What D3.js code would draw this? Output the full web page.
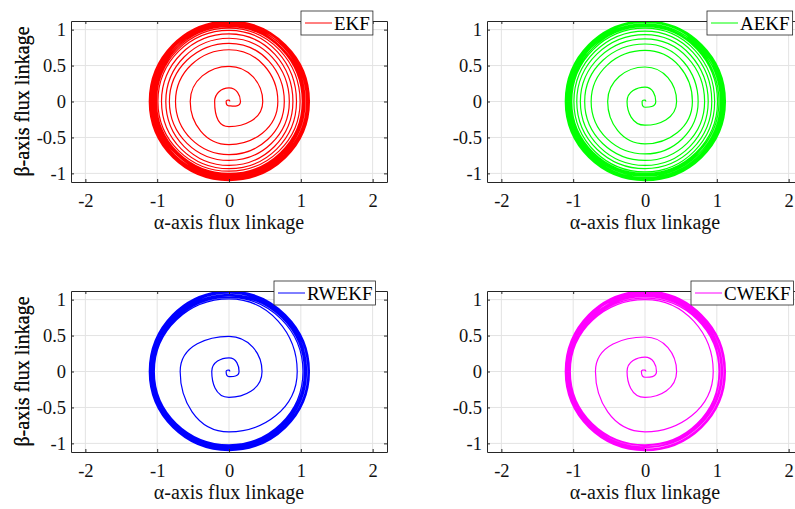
<!DOCTYPE html>
<html>
<head>
<meta charset="utf-8">
<script src="https://cdn.jsdelivr.net/npm/d3@7"></script>
<style>
    body { margin: 0; background: #fff; }
    svg { display: block; font-family: "Liberation Serif", "Times New Roman", serif; }
</style>
</head>
<body>
<div class="chart"></div>
<script>
// flux trace: radius where the trace crosses each half axis,
// in the order +alpha, +beta, -alpha, -beta (one turn every 4 values)
var ekfRadius = [0.01, 0.02, 0.04, 0.06,
    0.16, 0.19, 0.20, 0.35,
    0.47, 0.49, 0.54, 0.60,
    0.68, 0.72, 0.745, 0.74,
    0.77, 0.81, 0.83, 0.82,
    0.84, 0.88, 0.88, 0.89,
    0.89, 0.94, 0.94, 0.935,
    0.94, 0.99, 0.99, 0.97,
    0.99, 1.02, 1.01, 1.00,
    1.02, 1.04, 1.03, 1.02,
    1.04, 1.06, 1.05, 1.03,
    1.06, 1.08, 1.07, 1.05,
    1.08, 1.10, 1.09, 1.07,
    1.10, 1.12, 1.11, 1.09,
    1.12, 1.11, 1.10, 1.10,
    1.11, 1.12, 1.09, 1.08,
    1.10, 1.09, 1.06, 1.06,
    1.08, 1.07, 1.04, 1.03,
    1.05, 1.05, 1.02, 1.01,
    1.03, 1.04, 1.03, 1.04,
    1.06, 1.08, 1.08, 1.07,
    1.09, 1.11, 1.10, 1.09,
    1.11, 1.12, 1.11, 1.10,
    1.12, 1.10, 1.08, 1.06];

var aekfRadius = [0.01, 0.02, 0.04, 0.08,
    0.15, 0.20, 0.25, 0.33,
    0.44, 0.48, 0.52, 0.59,
    0.66, 0.71, 0.75, 0.73,
    0.74, 0.80, 0.84, 0.82,
    0.83, 0.87, 0.90, 0.89,
    0.88, 0.93, 0.95, 0.935,
    0.93, 0.98, 0.99, 0.98,
    0.97, 1.02, 1.02, 1.00,
    1.01, 1.04, 1.04, 1.02,
    1.03, 1.06, 1.06, 1.04,
    1.05, 1.08, 1.08, 1.06,
    1.07, 1.10, 1.09, 1.08,
    1.09, 1.12, 1.11, 1.09,
    1.11, 1.11, 1.10, 1.10,
    1.12, 1.12, 1.09, 1.08,
    1.10, 1.10, 1.07, 1.06,
    1.08, 1.07, 1.05, 1.03,
    1.06, 1.05, 1.03, 1.01,
    1.03, 1.04, 1.04, 1.04,
    1.05, 1.08, 1.07, 1.07,
    1.08, 1.11, 1.10, 1.09,
    1.11, 1.12, 1.11, 1.10,
    1.12, 1.10, 1.08, 1.06];

var rwekfRadius = [0.01, 0.02, 0.04, 0.07,
    0.14, 0.19, 0.24, 0.36,
    0.46, 0.49, 0.68, 0.84,
    0.95, 1.01, 1.04, 1.02,
    1.03, 1.03, 1.05, 1.03,
    1.05, 1.05, 1.07, 1.04,
    1.06, 1.07, 1.08, 1.06,
    1.08, 1.09, 1.10, 1.07,
    1.10, 1.11, 1.11, 1.09,
    1.11, 1.12, 1.10, 1.10,
    1.12, 1.11, 1.09, 1.08,
    1.10, 1.09, 1.07, 1.06,
    1.08, 1.07, 1.05, 1.04,
    1.06, 1.05, 1.04, 1.02,
    1.05, 1.06, 1.06, 1.05,
    1.07, 1.09, 1.09, 1.08,
    1.10, 1.12, 1.11, 1.10,
    1.12, 1.10, 1.08, 1.07];

var cwekfRadius = [0.01, 0.02, 0.05, 0.08,
    0.16, 0.20, 0.25, 0.36,
    0.44, 0.48, 0.69, 0.84,
    0.95, 1.00, 1.04, 1.02,
    1.03, 1.02, 1.05, 1.03,
    1.04, 1.04, 1.07, 1.05,
    1.06, 1.06, 1.08, 1.06,
    1.08, 1.08, 1.10, 1.08,
    1.10, 1.10, 1.11, 1.09,
    1.11, 1.12, 1.10, 1.10,
    1.12, 1.11, 1.09, 1.08,
    1.10, 1.09, 1.07, 1.06,
    1.08, 1.07, 1.05, 1.03,
    1.06, 1.04, 1.04, 1.02,
    1.04, 1.05, 1.06, 1.05,
    1.07, 1.09, 1.09, 1.08,
    1.10, 1.12, 1.11, 1.10,
    1.12, 1.10, 1.08, 1.07];

// unit direction of each crossing: +alpha, +beta, -alpha, -beta
var crossDirs = [[1, 0], [0, 1], [-1, 0], [0, -1]];

var xTicks = [-2, -1, 0, 1, 2];
var yTicks = [-1, -0.5, 0, 0.5, 1];
var names = ["EKF", "AEKF", "RWEKF", "CWEKF"];
var colors = ["#ff0000", "#00ff00", "#0000ff", "#ff00ff"];
var series = [ekfRadius, aekfRadius, rwekfRadius, cwekfRadius];

var xLabel = "\u03b1-axis flux linkage";
var yLabel = "\u03b2-axis flux linkage";

// panel placement (pixels)
var panels = [
    { left: 71, top: 21, legendX: 301 },
    { left: 487, top: 21, legendX: 707 },
    { left: 71, top: 291, legendX: 274 },
    { left: 487, top: 291, legendX: 691 }
];
var plotW = 316, plotH = 161;
var axisColor = "#262626";
var textColor = "#111";
var serif = "'Liberation Serif', 'Times New Roman', serif";

// quarter-turn arcs between successive axis crossings (counter-clockwise)
function tracePath(radii, x, y) {
    var p = d3.path();
    var k = 0.5523;
    radii.forEach(function (r, i) {
        var d = crossDirs[i % 4];
        if (i === 0) {
            p.moveTo(x(r * d[0]), y(r * d[1]));
            return;
        }
        var r0 = radii[i - 1], d0 = crossDirs[(i - 1) % 4];
        var c1 = [r0 * d0[0] - k * r0 * d0[1], r0 * d0[1] + k * r0 * d0[0]];
        var c2 = [r * d[0] + k * r * d[1], r * d[1] - k * r * d[0]];
        p.bezierCurveTo(x(c1[0]), y(c1[1]), x(c2[0]), y(c2[1]), x(r * d[0]), y(r * d[1]));
    });
    return p.toString();
}

var svg = d3.select(".chart")
    .append("svg")
    .attr("width", 795)
    .attr("height", 509);

panels.forEach(function (p, i) {

    var g = svg.append("g")
        .attr("transform", "translate(" + p.left + "," + p.top + ")");

    var x = d3.scaleLinear().domain([-2.2, 2.2]).range([0, plotW]);
    var y = d3.scaleLinear().domain([-1.12, 1.12]).range([plotH, 0]);

    // grid
    g.append("g").selectAll("line")
        .data(xTicks).enter().append("line")
        .attr("x1", function (d) { return x(d); })
        .attr("x2", function (d) { return x(d); })
        .attr("y1", 0).attr("y2", plotH)
        .attr("stroke", "#e3e3e3");
    g.append("g").selectAll("line")
        .data(yTicks).enter().append("line")
        .attr("y1", function (d) { return y(d); })
        .attr("y2", function (d) { return y(d); })
        .attr("x1", 0).attr("x2", plotW)
        .attr("stroke", "#e3e3e3");

    // trace
    var clipId = "clip" + i;
    g.append("clipPath").attr("id", clipId)
        .append("rect").attr("width", plotW).attr("height", plotH);

    g.append("path")
        .attr("clip-path", "url(#" + clipId + ")")
        .attr("fill", "none")
        .attr("stroke", colors[i])
        .attr("stroke-width", 1.2)
        .attr("d", tracePath(series[i], x, y));

    // axes, ticks pointing inward like matlab
    var fmt = function (d) { return String(d); };
    var bottom = g.append("g")
        .attr("transform", "translate(0," + plotH + ")")
        .call(d3.axisBottom(x).tickValues(xTicks).tickSizeInner(-3).tickSizeOuter(0).tickPadding(12).tickFormat(fmt));
    var top = g.append("g")
        .call(d3.axisTop(x).tickValues(xTicks).tickSizeInner(-3).tickSizeOuter(0).tickFormat(""));
    var leftAx = g.append("g")
        .call(d3.axisLeft(y).tickValues(yTicks).tickSizeInner(-3).tickSizeOuter(0).tickPadding(5).tickFormat(fmt));
    var rightAx = g.append("g")
        .attr("transform", "translate(" + plotW + ",0)")
        .call(d3.axisRight(y).tickValues(yTicks).tickSizeInner(-3).tickSizeOuter(0).tickFormat(""));

    [bottom, top, leftAx, rightAx].forEach(function (a) {
        a.attr("font-family", serif);
        a.select(".domain").attr("stroke", axisColor);
        a.selectAll(".tick line").attr("stroke", axisColor);
        a.selectAll("text")
            .attr("fill", textColor)
            .style("font-family", serif)
            .style("font-size", "18.5px");
    });

    // axis labels
    g.append("text")
        .attr("text-anchor", "middle")
        .attr("x", plotW / 2)
        .attr("y", plotH + 47)
        .attr("fill", textColor)
        .style("font-family", serif)
        .style("font-size", "20px")
        .text(xLabel);

    g.append("text")
        .attr("text-anchor", "middle")
        .attr("transform", "translate(" + (29 - p.left) + "," + (plotH / 2) + ") rotate(-90)")
        .attr("fill", textColor)
        .style("font-family", serif)
        .style("font-size", "20px")
        .text(yLabel);

    // legend
    var lg = svg.append("g")
        .attr("transform", "translate(" + p.legendX + "," + (p.top - 10) + ")");
    var box = lg.append("rect")
        .attr("height", 24)
        .attr("fill", "#fff")
        .attr("stroke", axisColor)
        .attr("stroke-width", 0.8);
    lg.append("line")
        .attr("x1", 4).attr("x2", 31)
        .attr("y1", 12).attr("y2", 12)
        .attr("stroke", colors[i]);
    var lt = lg.append("text")
        .attr("x", 33)
        .attr("y", 18.5)
        .attr("fill", "#000")
        .style("font-family", serif)
        .style("font-size", "19px")
        .text(names[i]);
    box.attr("width", 33 + lt.node().getComputedTextLength() + 3);
});
</script>
</body>
</html>
